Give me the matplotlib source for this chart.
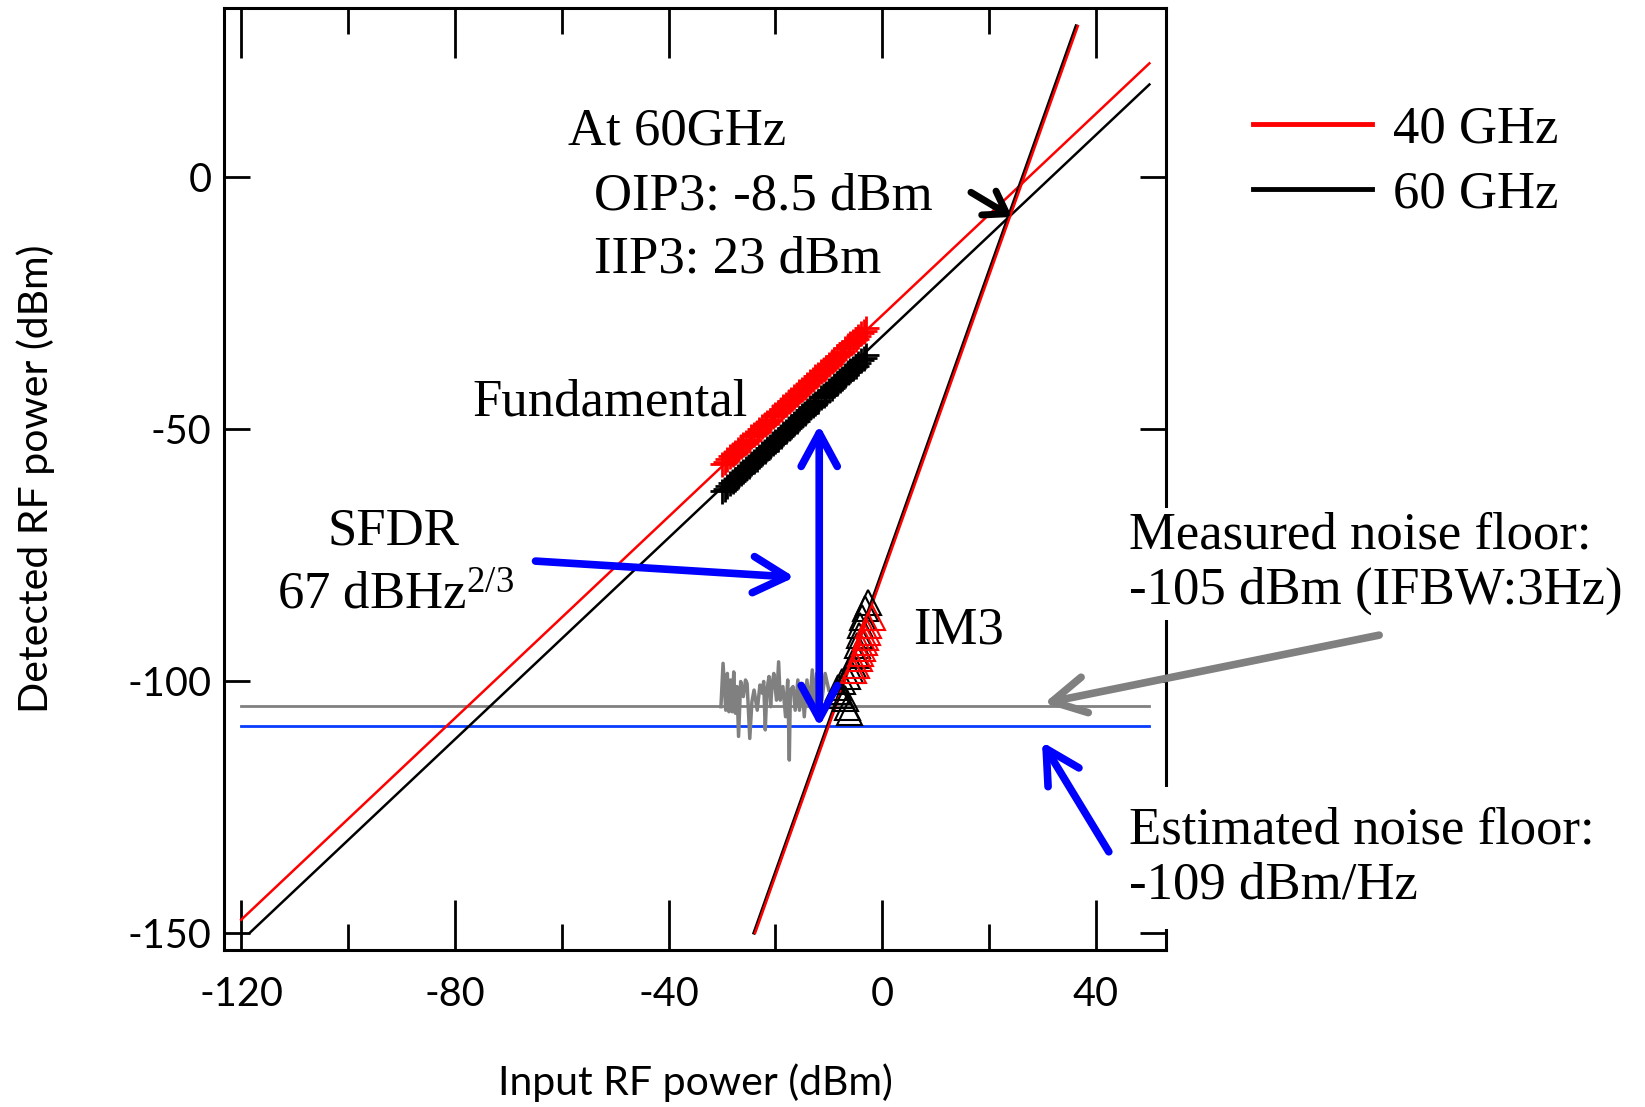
import matplotlib
matplotlib.use("Agg")
import matplotlib.pyplot as plt
from matplotlib.lines import Line2D
import numpy as np

plt.rcParams['axes.unicode_minus'] = False
plt.rcParams['mathtext.fontset'] = 'custom'
plt.rcParams['mathtext.rm'] = 'Liberation Serif'
plt.rcParams['mathtext.it'] = 'Liberation Serif:italic'

SANS = 'Lato'
SERIF = 'Liberation Serif'

# ---------------- data ----------------
# fitted fundamental / IM3 lines (end points in dBm)
fit_fund40_x = [-120.0, 50.0]
fit_fund40_y = [-147.4, 22.6]
fit_fund60_x = [-118.4, 50.0]
fit_fund60_y = [-150.0, 18.4]
fit_im3_60_x = [-24.0, 36.3]
fit_im3_60_y = [-150.0, 30.0]
fit_im3_40_x = [-23.8, 36.6]
fit_im3_40_y = [-150.0, 30.0]

# noise floors
floor_x = [-120.0, 50.0]
measured_floor = -105.0
estimated_floor = -109.0

# measured fundamental
fund_in = [-30.0, -29.5, -29.0, -28.5, -28.0, -27.5, -27.0, -26.5, -26.0, -25.5,
           -25.0, -24.5, -24.0, -23.5, -23.0, -22.5, -22.0, -21.5, -21.0, -20.5,
           -20.0, -19.5, -19.0, -18.5, -18.0, -17.5, -17.0, -16.5, -16.0, -15.5,
           -15.0, -14.5, -14.0, -13.5, -13.0, -12.5, -12.0, -11.5, -11.0, -10.5,
           -10.0, -9.5, -9.0, -8.5, -8.0, -7.5, -7.0, -6.5, -6.0, -5.5,
           -5.0, -4.5, -4.0, -3.5, -3.0]
fund40_out = [-57.0, -56.6, -56.0, -55.4, -55.0, -54.6, -54.0, -53.4, -53.0, -52.5,
              -52.1, -51.4, -51.0, -50.6, -50.0, -49.4, -49.0, -48.5, -48.1, -47.4,
              -47.0, -46.6, -46.0, -45.5, -45.0, -44.5, -44.1, -43.4, -43.0, -42.5,
              -42.0, -41.6, -41.0, -40.4, -40.0, -39.5, -39.1, -38.4, -38.0, -37.6,
              -37.0, -36.5, -36.0, -35.5, -35.0, -34.6, -34.0, -33.4, -33.0, -32.5,
              -32.1, -31.5, -31.0, -30.6, -30.0]
fund60_out = [-62.3, -61.9, -61.3, -60.7, -60.3, -59.9, -59.3, -58.7, -58.3, -57.8,
              -57.4, -56.7, -56.3, -55.9, -55.3, -54.7, -54.3, -53.8, -53.4, -52.7,
              -52.3, -51.9, -51.3, -50.8, -50.3, -49.8, -49.4, -48.7, -48.3, -47.8,
              -47.3, -46.9, -46.3, -45.7, -45.3, -44.8, -44.4, -43.7, -43.3, -42.9,
              -42.3, -41.8, -41.3, -40.8, -40.3, -39.9, -39.3, -38.7, -38.3, -37.8,
              -37.4, -36.8, -36.3, -35.9, -35.3]

# measured IM3
im3_60_in = [-8.5, -8.2, -7.9, -7.5, -6.6, -6.0, -5.4, -5.0, -4.7, -4.4, -4.1, -3.8,
             -3.2, -2.6, -6.9, -6.6, -6.3]
im3_60_out = [-102.0, -101.1, -102.8, -100.1, -99.1, -97.8, -96.8, -94.8, -92.9, -90.9,
              -88.9, -87.2, -85.6, -84.3, -103.4, -105.1, -106.1]
im3_40_in = [-5.4, -5.0, -4.4, -4.1, -3.8, -3.5, -3.2, -2.9, -2.6, -1.9]
im3_40_out = [-97.8, -96.8, -95.5, -94.5, -93.5, -92.2, -91.2, -90.2, -88.9, -87.2]

# measured noise trace
noise_in = [-30.2, -29.8, -29.3, -29.0, -28.7, -28.4, -28.1, -27.8, -27.5, -27.2,
            -26.9, -26.5, -26.0, -25.6, -25.3, -24.8, -24.4, -24.0, -23.4, -22.9,
            -22.5, -22.2, -21.9, -21.6, -21.2, -20.9, -20.6, -20.3, -19.8, -19.4,
            -19.1, -18.6, -18.1, -17.7, -17.4, -17.2, -16.7, -16.3, -15.8, -15.5,
            -15.0, -14.6, -14.1, -13.6, -13.1, -12.7, -12.3, -11.9, -11.3, -10.7, -10.0]
noise_out = [-105.1, -96.5, -105.8, -98.5, -106.1, -99.8, -106.1, -98.2, -106.4, -101.1,
             -111.0, -100.1, -103.1, -99.8, -100.5, -111.4, -104.1, -101.8, -105.8, -100.8,
             -102.4, -100.1, -109.7, -101.8, -99.1, -105.1, -100.5, -98.5, -103.8, -96.2,
             -103.8, -101.1, -107.1, -99.8, -115.7, -101.8, -101.1, -105.8, -99.8, -105.8,
             -100.5, -107.1, -99.8, -105.1, -97.8, -105.8, -98.5, -105.1, -103.8, -98.5, -101.8]

x_major = [-120, -80, -40, 0, 40]
x_minor = [-100, -60, -20, 20]
x_ticklabels = ['-120', '-80', '-40', '0', '40']
y_major = [-150, -100, -50, 0]
y_ticklabels = ['-150', '-100', '-50', '0']

# ---------------- figure ----------------
fig = plt.figure(figsize=(16.45, 11.07), dpi=100)
ax = fig.add_axes([0.1362, 0.1418, 0.5726, 0.8506])
ax.set_xlim(-123.2, 53.1)
ax.set_ylim(-153.4, 33.5)

RED = '#FF0000'
BLUE_LINE = '#0A3CFF'
BLUE = '#0000FF'
GRAY = '#808080'

# noise floors
ax.plot(floor_x, [measured_floor, measured_floor], color=GRAY, lw=2.0, zorder=2)
ax.plot(floor_x, [estimated_floor, estimated_floor], color=BLUE_LINE, lw=2.0, zorder=2)
ax.plot(noise_in, noise_out, color=GRAY, lw=2.5, zorder=2)

# fits
ax.plot(fit_fund60_x, fit_fund60_y, color='black', lw=1.8, zorder=3)
ax.plot(fit_fund40_x, fit_fund40_y, color=RED, lw=1.8, zorder=3)
ax.plot(fit_im3_60_x, fit_im3_60_y, color='black', lw=2.4, zorder=3)
ax.plot(fit_im3_40_x, fit_im3_40_y, color=RED, lw=1.8, zorder=3)

# measured markers
ax.plot(fund_in, fund60_out, ls='none', marker='+', ms=18, mew=2.0, color='black', zorder=4)
ax.plot(fund_in, fund40_out, ls='none', marker='+', ms=18, mew=2.0, color=RED, zorder=4)
ax.plot(im3_60_in, im3_60_out, ls='none', marker='^', ms=18, mew=1.5, mfc='none', mec='black', zorder=4)
ax.plot(im3_40_in, im3_40_out, ls='none', marker='^', ms=18, mew=1.5, mfc='none', mec=RED, zorder=4)

# ticks
ax.set_xticks(x_major)
ax.set_xticklabels(x_ticklabels)
ax.set_xticks(x_minor, minor=True)
ax.set_yticks(y_major)
ax.set_yticklabels(y_ticklabels)
ax.tick_params(axis='x', which='major', direction='in', length=36, width=2,
               top=True, bottom=True, pad=19, labelsize=28.5)
ax.tick_params(axis='x', which='minor', direction='in', length=19, width=2,
               top=True, bottom=True)
ax.tick_params(axis='y', which='major', direction='in', length=19, width=2,
               left=True, right=True, pad=9, labelsize=28.5)
for lab in ax.get_xticklabels() + ax.get_yticklabels():
    lab.set_fontfamily(SANS)
for sp in ax.spines.values():
    sp.set_linewidth(2.2)

ax.set_xlabel('Input RF power (dBm)', fontsize=29.5, family=SANS, va='center')
ax.xaxis.set_label_coords(0.5, -0.1413)
ax.set_ylabel('Detected RF power (dBm)', fontsize=29.5, family=SANS, va='center')
ax.yaxis.set_label_coords(-0.1995, 0.5)

# texts
tkw = dict(fontsize=38, family=SERIF, va='center', zorder=6)
ax.text(-58.9, 9.1, 'At 60GHz', ha='left', **tkw)
ax.text(-54.0, -3.8, 'OIP3: -8.5 dBm', ha='left', **tkw)
ax.text(-54.0, -16.3, 'IIP3: 23 dBm', ha='left', **tkw)
ax.text(-76.8, -44.8, 'Fundamental', ha='left', **tkw)
ax.text(-91.4, -70.4, 'SFDR', ha='center', **tkw)
ax.text(-113.3, -83.1, r'67 dBHz$^{\mathrm{2/3}}$', ha='left', **tkw)
ax.text(5.8, -89.9, 'IM3', ha='left', **tkw)
ax.text(46.2, -76.7, 'Measured noise floor:\n-105 dBm (IFBW:3Hz)', ha='left',
        linespacing=1.2, clip_on=False,
        bbox=dict(fc='white', ec='none', pad=3), **tkw)
ax.text(46.2, -135.1, 'Estimated noise floor:\n-109 dBm/Hz', ha='left',
        linespacing=1.2, clip_on=False,
        bbox=dict(fc='white', ec='none', pad=14), **tkw)

# arrows
def arrow(x0, y0, x1, y1, color, lw, style, ms=10):
    ax.annotate('', xy=(x1, y1), xytext=(x0, y0), xycoords='data', textcoords='data',
                annotation_clip=False, zorder=7,
                arrowprops=dict(arrowstyle=style, color=color, lw=lw,
                                shrinkA=0, shrinkB=0, mutation_scale=ms,
                                capstyle='round', joinstyle='round'))

arrow(16.6, -3.0, 24.3, -7.9, 'black', 5.0, '->,head_length=1.5,head_width=1.0')
arrow(-64.9, -76.2, -16.4, -79.4, BLUE, 5.5, '->,head_length=2.4,head_width=1.3')
arrow(-11.8, -109.1, -11.8, -49.2, BLUE, 5.5, '<->,head_length=2.4,head_width=1.3')
arrow(93.0, -90.9, 30.3, -104.4, GRAY, 5.5, '->,head_length=2.4,head_width=1.3')
arrow(42.4, -133.9, 29.9, -112.1, BLUE, 5.5, '->,head_length=2.4,head_width=1.3')

# legend
handles = [Line2D([], [], color=RED, lw=3.5), Line2D([], [], color='black', lw=3.5)]
ax.legend(handles, ['40 GHz', '60 GHz'], loc='upper left', bbox_to_anchor=(0.762, 0.905),
          bbox_transform=fig.transFigure, frameon=False,
          prop=dict(family=SERIF, size=38), handlelength=2.24, handletextpad=0.4,
          labelspacing=0.32, borderpad=0, borderaxespad=0)

fig.savefig('out.png', dpi=100)
